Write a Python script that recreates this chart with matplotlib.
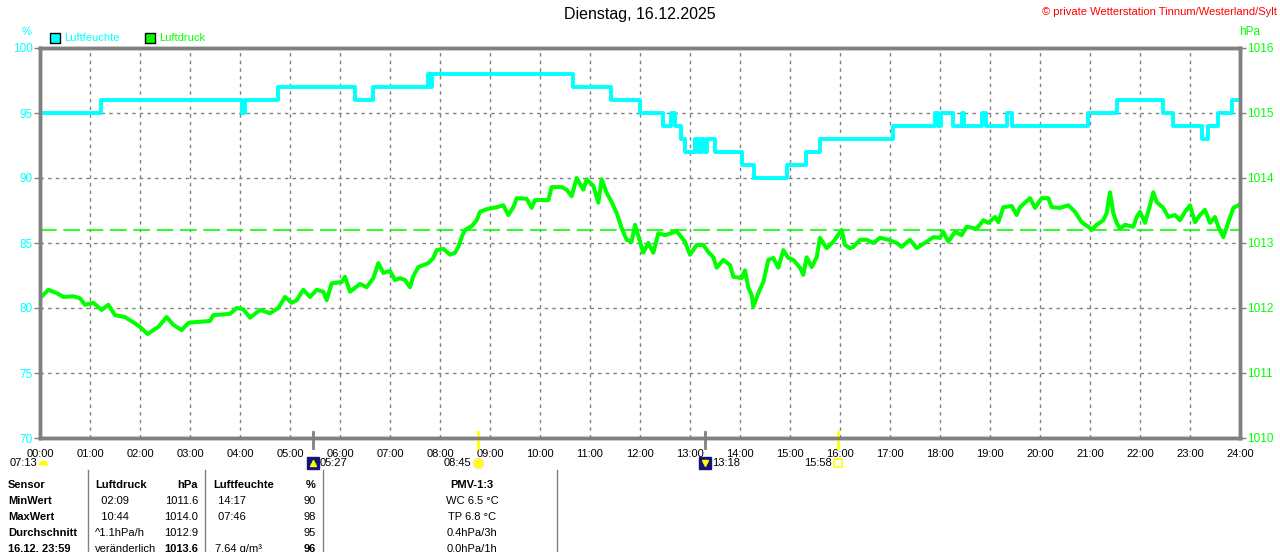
import matplotlib.pyplot as plt
from matplotlib.lines import Line2D
from matplotlib.patches import Rectangle
from matplotlib.transforms import blended_transform_factory

plt.rcParams['font.family'] = ['Liberation Sans', 'DejaVu Sans']

# --- data (minutes after midnight) ---
hum_min = [0, 73, 242, 246, 286, 378, 400, 466, 468, 470,
           640, 685, 720, 748, 757, 762, 769, 774, 786, 790,
           793, 797, 800, 810, 842, 857, 896, 919, 936, 1024,
           1074, 1078, 1081, 1096, 1106, 1109, 1130, 1135, 1160, 1166,
           1258, 1292, 1348, 1360, 1394, 1402, 1414, 1430, 1440]
hum_val = [95, 96, 95, 96, 97, 96, 97, 98, 97, 98,
           97, 96, 95, 94, 95, 94, 93, 92, 93, 92,
           93, 92, 93, 92, 91, 90, 91, 92, 93, 94,
           95, 94, 95, 94, 95, 94, 95, 94, 95, 94,
           95, 96, 95, 94, 93, 94, 95, 96, 96]

press_min = [0, 10, 20, 28, 40, 48, 54, 64, 74, 82,
             90, 102, 112, 120, 129, 142, 152, 160, 170, 178,
             184, 204, 208, 228, 236, 244, 252, 264, 276, 286,
             294, 302, 308, 316, 324, 332, 340, 344, 350, 362,
             366, 372, 384, 392, 400, 406, 412, 420, 426, 432,
             438, 444, 448, 454, 466, 472, 476, 484, 492, 498,
             502, 506, 510, 518, 524, 528, 536, 548, 556, 562,
             568, 572, 584, 590, 594, 610, 614, 626, 632, 638,
             644, 652, 656, 664, 670, 674, 680, 686, 692, 698,
             704, 710, 714, 720, 724, 730, 736, 742, 750, 764,
             774, 780, 788, 796, 802, 808, 812, 820, 828, 832,
             842, 846, 850, 854, 856, 862, 868, 874, 880, 886,
             892, 898, 904, 912, 916, 920, 926, 932, 936, 944,
             952, 962, 966, 972, 976, 984, 992, 1000, 1008, 1018,
             1028, 1034, 1044, 1052, 1064, 1072, 1080, 1084, 1090, 1098,
             1106, 1112, 1124, 1132, 1138, 1146, 1150, 1156, 1166, 1172,
             1176, 1188, 1194, 1202, 1210, 1214, 1224, 1234, 1242, 1250,
             1258, 1262, 1268, 1276, 1280, 1284, 1288, 1292, 1296, 1302,
             1312, 1316, 1320, 1326, 1332, 1336, 1340, 1348, 1354, 1362,
             1368, 1374, 1380, 1386, 1392, 1398, 1404, 1410, 1414, 1420,
             1426, 1432, 1438, 1440]
press_val = [1012.15, 1012.28, 1012.23, 1012.17, 1012.18, 1012.15, 1012.05, 1012.08, 1011.97, 1012.05,
             1011.89, 1011.86, 1011.78, 1011.71, 1011.60, 1011.71, 1011.86, 1011.74, 1011.66, 1011.77,
             1011.78, 1011.80, 1011.89, 1011.91, 1012.00, 1011.98, 1011.85, 1011.97, 1011.92, 1012.00,
             1012.17, 1012.08, 1012.12, 1012.28, 1012.17, 1012.28, 1012.25, 1012.12, 1012.38, 1012.40,
             1012.48, 1012.25, 1012.37, 1012.32, 1012.46, 1012.69, 1012.54, 1012.57, 1012.43, 1012.46,
             1012.43, 1012.32, 1012.49, 1012.63, 1012.69, 1012.77, 1012.89, 1012.91, 1012.82, 1012.85,
             1012.94, 1013.09, 1013.20, 1013.26, 1013.35, 1013.48, 1013.52, 1013.55, 1013.58, 1013.43,
             1013.55, 1013.69, 1013.68, 1013.54, 1013.66, 1013.66, 1013.86, 1013.86, 1013.82, 1013.72,
             1014.00, 1013.82, 1013.98, 1013.88, 1013.62, 1013.98, 1013.77, 1013.63, 1013.46, 1013.23,
             1013.05, 1013.02, 1013.28, 1013.02, 1012.85, 1013.00, 1012.85, 1013.15, 1013.12, 1013.18,
             1013.02, 1012.82, 1012.97, 1012.97, 1012.86, 1012.78, 1012.62, 1012.74, 1012.66, 1012.48,
             1012.46, 1012.58, 1012.31, 1012.20, 1012.02, 1012.23, 1012.40, 1012.74, 1012.77, 1012.62,
             1012.89, 1012.77, 1012.74, 1012.62, 1012.51, 1012.78, 1012.63, 1012.78, 1013.08, 1012.92,
             1013.02, 1013.20, 1012.97, 1012.92, 1012.94, 1013.05, 1013.05, 1013.00, 1013.08, 1013.05,
             1013.00, 1012.94, 1013.05, 1012.92, 1013.02, 1013.09, 1013.08, 1013.17, 1013.02, 1013.17,
             1013.12, 1013.25, 1013.22, 1013.35, 1013.31, 1013.40, 1013.32, 1013.55, 1013.57, 1013.43,
             1013.55, 1013.69, 1013.54, 1013.69, 1013.69, 1013.55, 1013.54, 1013.58, 1013.48, 1013.32,
             1013.25, 1013.20, 1013.28, 1013.35, 1013.46, 1013.78, 1013.46, 1013.31, 1013.22, 1013.28,
             1013.25, 1013.40, 1013.48, 1013.31, 1013.58, 1013.78, 1013.63, 1013.54, 1013.40, 1013.43,
             1013.35, 1013.48, 1013.58, 1013.32, 1013.43, 1013.51, 1013.31, 1013.40, 1013.25, 1013.09,
             1013.32, 1013.54, 1013.58, 1013.60]
press_ref = 1013.2

hour_ticks = list(range(0, 1441, 60))
hour_labels = ['%02d:00' % h for h in range(25)]
hum_ticks = [70, 75, 80, 85, 90, 95, 100]
press_ticks = [1010, 1011, 1012, 1013, 1014, 1015, 1016]

moon_rise, sun_rise, moon_set, sun_set = 327, 525, 798, 958
day_length = '07:13'

table_header = ['Sensor', 'Luftdruck', 'hPa', 'Luftfeuchte', '%', 'PMV-1:3']
row_labels = ['MinWert', 'MaxWert', 'Durchschnitt', '16.12. 23:59']
press_info = ['  02:09', '  10:44', '^1.1hPa/h', 'veränderlich']
press_vals = ['1011.6', '1014.0', '1012.9', '1013.6']
hum_info = [' 14:17', ' 07:46', '', '7.64 g/m³']
hum_vals = ['90', '98', '95', '96']
pmv_info = ['WC 6.5 °C', 'TP 6.8 °C', '0.4hPa/3h', '0.0hPa/1h']

# --- layout helpers (pixels) ---
W, H = 1280, 552
def fx(x): return x / W
def fy(y): return 1 - y / H

CYAN = '#00ffff'
GREEN = '#00ff00'
GRAY = '#808080'
NAVY = '#14147a'
YELLOW = '#ffff00'

fig = plt.figure(figsize=(W / 100, H / 100), dpi=100)
ax = fig.add_axes([fx(40), fy(438), 1200 / W, 390 / H])
ax2 = ax.twinx()

ax.step(hum_min, hum_val, where='post', color=CYAN, lw=2.8, zorder=3)
ax2.plot(press_min, press_val, color=GREEN, lw=2.9)
ax2.axhline(press_ref, color=GREEN, lw=1.2, dashes=(10, 4))

ax.set_xlim(0, 1440)
ax.set_ylim(70, 100)
ax2.set_ylim(1010, 1016)
ax.set_xticks(hour_ticks)
ax.set_xticklabels(hour_labels)
ax.set_yticks(hum_ticks)
ax2.set_yticks(press_ticks)
ax.grid(True, color=GRAY, lw=1, linestyle=(0, (2.5, 3)))

for a in (ax, ax2):
    for s in a.spines.values():
        s.set_color(GRAY)
        s.set_linewidth(2.5)
ax.tick_params(axis='x', length=0, pad=8, labelsize=8, labelcolor='black')
ax.tick_params(axis='y', colors=GRAY, labelcolor=CYAN, length=4, width=1, pad=1, labelsize=8.5)
ax2.tick_params(axis='y', colors=GRAY, labelcolor=GREEN, length=4, width=1, pad=1, labelsize=8.5)

# titles and legend
fig.text(fx(640), fy(15), 'Dienstag, 16.12.2025', ha='center', va='center', fontsize=11.5)
fig.text(fx(1277), fy(12), '© private Wetterstation Tinnum/Westerland/Sylt', ha='right', va='center',
         fontsize=8, color='red')
fig.text(fx(27), fy(32), '%', ha='center', va='center', fontsize=8, color=CYAN)
fig.text(fx(1250), fy(32), 'hPa', ha='center', va='center', fontsize=8.5, color=GREEN)
for x0, col, name in [(50, CYAN, 'Luftfeuchte'), (145, GREEN, 'Luftdruck')]:
    fig.add_artist(Rectangle((fx(x0), fy(43)), 10 / W, 10 / H, facecolor=col, edgecolor='black',
                             lw=1, transform=fig.transFigure))
    fig.text(fx(x0 + 14), fy(38), name, ha='left', va='center', fontsize=8, color=col)

# sun / moon events below the axis
trans = blended_transform_factory(ax.transData, fig.transFigure)
for t, col in [(moon_rise, GRAY), (moon_set, GRAY), (sun_rise, YELLOW), (sun_set, YELLOW)]:
    ax.plot([t, t], [fy(432), fy(448)], transform=trans, clip_on=False, color=col, lw=2, zorder=5)

ty = fy(463)
fig.text(fx(10), ty, day_length, ha='left', va='center', fontsize=8)
ax.plot([3], [fy(465)], transform=trans, clip_on=False, marker='o', ms=7, fillstyle='top',
        color=YELLOW, mec=YELLOW, markerfacecoloralt='none', mew=0)
for t, arrow in [(moon_rise, '^'), (moon_set, 'v')]:
    ax.plot([t], [ty], transform=trans, clip_on=False, marker='s', ms=8, color=NAVY)
    ax.plot([t], [ty], transform=trans, clip_on=False, marker=arrow, ms=4, color=YELLOW)
    ax.text(t + 8, ty, '%02d:%02d' % divmod(t, 60), ha='left', va='center', fontsize=8,
            transform=trans)
ax.plot([sun_rise], [ty], transform=trans, clip_on=False, marker='o', ms=7, color=YELLOW,
        mec='#ffee88', mew=1.5)
ax.text(sun_rise - 8, ty, '%02d:%02d' % divmod(sun_rise, 60), ha='right', va='center',
        fontsize=8, transform=trans)
ax.plot([sun_set], [ty], transform=trans, clip_on=False, marker='s', ms=6, mfc='none',
        mec=YELLOW, mew=1.2)
ax.text(sun_set - 8, ty, '%02d:%02d' % divmod(sun_set, 60), ha='right', va='center',
        fontsize=8, transform=trans)

# table
for x in [88, 205, 323, 557]:
    fig.add_artist(Line2D([fx(x), fx(x)], [fy(470), fy(552)], color=GRAY, lw=1,
                          transform=fig.transFigure))
hy = fy(485)
fig.text(fx(8), hy, table_header[0], ha='left', va='center', fontsize=8, weight='bold')
fig.text(fx(95), hy, table_header[1], ha='left', va='center', fontsize=8, weight='bold')
fig.text(fx(198), hy, table_header[2], ha='right', va='center', fontsize=8, weight='bold')
fig.text(fx(213), hy, table_header[3], ha='left', va='center', fontsize=8, weight='bold')
fig.text(fx(316), hy, table_header[4], ha='right', va='center', fontsize=8, weight='bold')
fig.text(fx(472), hy, table_header[5], ha='center', va='center', fontsize=8, weight='bold')
for i in range(4):
    y = fy(501 + 16 * i)
    last = 'bold' if i == 3 else 'normal'
    fig.text(fx(8), y, row_labels[i], ha='left', va='center', fontsize=8, weight='bold')
    fig.text(fx(95), y, press_info[i], ha='left', va='center', fontsize=8)
    fig.text(fx(198), y, press_vals[i], ha='right', va='center', fontsize=8, weight=last)
    fig.text(fx(215), y, hum_info[i], ha='left', va='center', fontsize=8)
    fig.text(fx(316), y, hum_vals[i], ha='right', va='center', fontsize=8, weight=last)
    fig.text(fx(472), y, pmv_info[i], ha='center', va='center', fontsize=8)

fig.savefig('out.png', dpi=100)
